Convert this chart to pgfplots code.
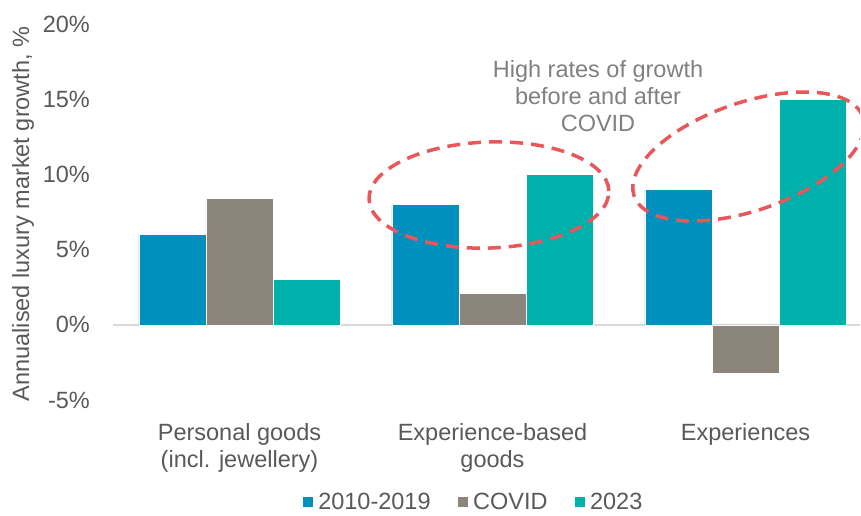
\documentclass[border=0pt]{standalone}
\usepackage{pgfplots}
\pgfplotsset{compat=1.18}
\usepackage{fontspec}
\setmainfont{Liberation Sans}

\definecolor{cBlue}{HTML}{0090BE}
\definecolor{cGray}{HTML}{8C857B}
\definecolor{cTeal}{HTML}{00B0AA}
\definecolor{cRed}{HTML}{E8585B}
\definecolor{cText}{HTML}{595959}
\definecolor{cNote}{HTML}{808080}
\definecolor{cZero}{HTML}{D9D9D9}

\begin{document}
\begin{tikzpicture}[font=\fontsize{23.5}{27}\selectfont]
\begin{axis}[
    scale only axis,
    width=747pt, height=376pt,
    xmin=-0.5, xmax=2.4526,
    ymin=-5, ymax=20,
    ybar=0pt, bar width=67pt,
    axis line style={draw=none},
    tick style={draw=none},
    xtick={0,1,2},
    xticklabels={{Personal goods\\(incl. jewellery)},{Experience-based\\goods},{Experiences}},
    ytick={-5,0,5,10,15,20},
    yticklabels={-5\%,0\%,5\%,10\%,15\%,20\%},
    tick label style={text=cText, inner sep=0pt},
    xticklabel style={align=center, anchor=north, yshift=-19pt},
    yticklabel style={anchor=east, xshift=-23pt},
    ylabel={Annualised luxury market growth, \%},
    every axis y label/.style={at={(axis description cs:-0.1124,0.495)}, rotate=90, anchor=base, text=cText},
    legend columns=3,
    legend style={at={(axis description cs:0.482,-0.271)}, anchor=center,
        draw=none, fill=none, text=cText,
        /tikz/every odd column/.append style={column sep=3pt},
        /tikz/every even column/.append style={column sep=24pt}},
    every axis plot post/.append style={
        legend image code/.code={\fill[##1] (0pt,-5.5pt) rectangle (11pt,5.5pt);}},
]
% zero line under the bars
\draw[cZero, line width=2pt] (axis cs:-0.5,0) -- (axis cs:2.4526,0);

\addplot[fill=cBlue, draw=white, line width=0.5pt] coordinates {(0,6) (1,8) (2,9)};
\addplot[fill=cGray, draw=white, line width=0.5pt] coordinates {(0,8.4) (1,2.1) (2,-3.2)};
\addplot[fill=cTeal, draw=white, line width=0.5pt] coordinates {(0,3) (1,10) (2,15)};
\legend{2010-2019, COVID, 2023}

% callouts
\draw[cRed, line width=3.5pt, dash pattern=on 13pt off 8pt]
    (axis cs:0.986,8.63) circle [x radius=120pt, y radius=53pt, rotate=2];
\draw[cRed, line width=3.5pt, dash pattern=on 13pt off 8pt]
    (axis cs:2.012,11.19) circle [x radius=121pt, y radius=54pt, rotate=19];
\node[align=center, anchor=north, inner sep=0pt, text=cNote]
    at (axis cs:1.417,17.6) {High rates of growth\\before and after\\COVID};

\coordinate (bl) at (rel axis cs:0,0);
\coordinate (tr) at (rel axis cs:1,1);
\end{axis}
\pgfresetboundingbox
\path ([xshift=-113pt,yshift=-115pt]bl) rectangle ([xshift=1pt,yshift=24pt]tr);
\end{tikzpicture}
\end{document}
